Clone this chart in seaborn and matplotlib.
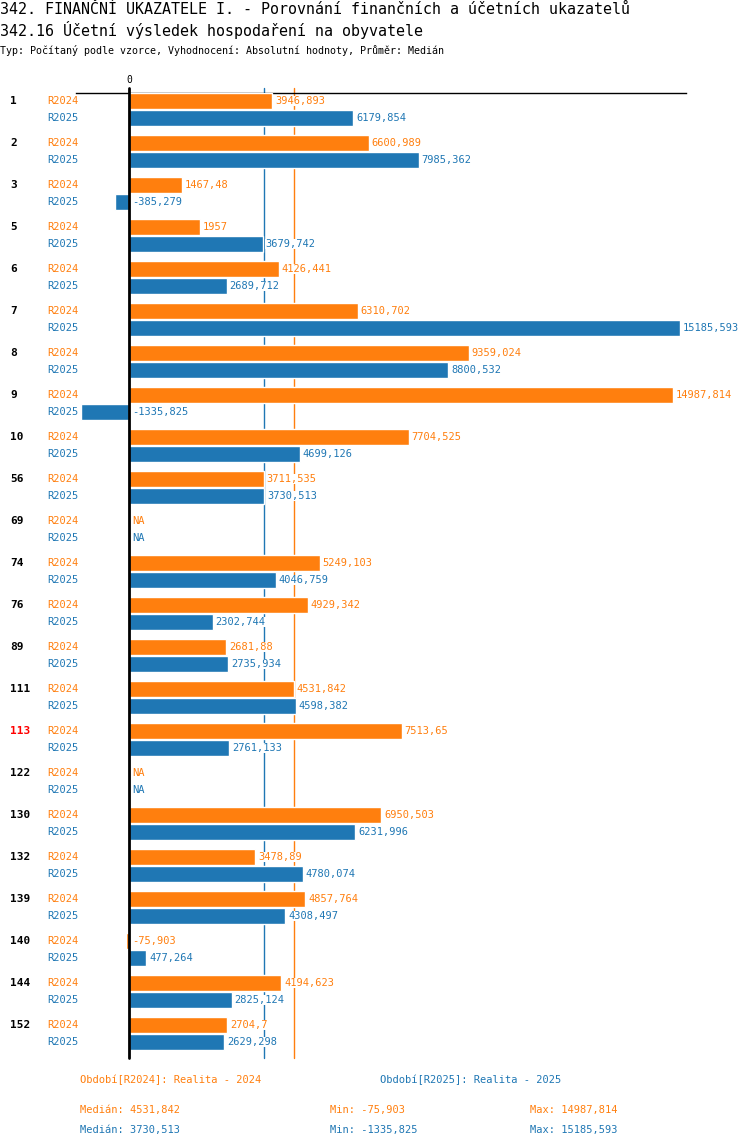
import numpy as np
import pandas as pd
import seaborn as sns
import matplotlib.pyplot as plt
from matplotlib.transforms import blended_transform_factory

# data
obce = ["1", "2", "3", "5", "6", "7", "8", "9", "10", "56", "69", "74", "76", "89",
        "111", "113", "122", "130", "132", "139", "140", "144", "152"]
r2024 = [3946.893, 6600.989, 1467.48, 1957, 4126.441, 6310.702, 9359.024, 14987.814,
         7704.525, 3711.535, np.nan, 5249.103, 4929.342, 2681.88, 4531.842, 7513.65,
         np.nan, 6950.503, 3478.89, 4857.764, -75.903, 4194.623, 2704.7]
r2025 = [6179.854, 7985.362, -385.279, 3679.742, 2689.712, 15185.593, 8800.532, -1335.825,
         4699.126, 3730.513, np.nan, 4046.759, 2302.744, 2735.934, 4598.382, 2761.133,
         np.nan, 6231.996, 4780.074, 4308.497, 477.264, 2825.124, 2629.298]
obdobi = ["R2024", "R2025"]
popisky = ["Období[R2024]: Realita - 2024", "Období[R2025]: Realita - 2025"]
zvyraznena = "113"

ORANGE = "#ff7f0e"
BLUE = "#1f77b4"
barvy = [ORANGE, BLUE]

df = pd.DataFrame({
    "obec": obce * 2,
    "obdobi": ["R2024"] * len(obce) + ["R2025"] * len(obce),
    "hodnota": r2024 + r2025,
})


def fmt(v):
    if np.isnan(v):
        return "NA"
    s = ("%.3f" % v).rstrip("0").rstrip(".")
    return s.replace(".", ",")


sns.set_style("white")
plt.rcParams["font.family"] = ["DejaVu Sans Mono"]
plt.rcParams["text.color"] = "black"

W, H = 750, 1148
fig = plt.figure(figsize=(W / 100, H / 100), dpi=100)
ax = fig.add_axes([76 / W, (H - 1058) / H, 610 / W, 965 / H])

sns.barplot(data=df, y="obec", x="hodnota", hue="obdobi", order=obce, hue_order=obdobi,
            palette=barvy, width=0.81, gap=0.05, orient="h", errorbar=None,
            legend=False, saturation=1, ax=ax, zorder=3)

ax.set_xlim(-1460, 15344)
ax.set_ylim(22.583, -0.393)

for s in ["left", "right", "bottom"]:
    ax.spines[s].set_visible(False)
ax.spines["top"].set_linewidth(1)
ax.spines["top"].set_color("black")
ax.set_ylabel("")
ax.set_xlabel("")
ax.set_yticks([])
ax.xaxis.tick_top()
ax.set_xticks([0])
ax.set_xticklabels(["0"], fontsize=7, color="black")
ax.tick_params(axis="x", length=0, pad=6)

# zero line + medians
ax.axvline(0, ymin=0, ymax=1 + 5 / 965, color="black", lw=2, zorder=5, clip_on=False)
medians = [np.nanmedian(r2024), np.nanmedian(r2025)]
for m, c in zip(medians, barvy):
    ax.axvline(m, ymin=0, ymax=1 + 5 / 965, color=c, lw=1, zorder=1, clip_on=False)

# offsets of the hue rows from the category centre (category 0 has both bars)
offs = []
for k in range(2):
    b = ax.containers[k][0]
    offs.append(b.get_y() + b.get_height() / 2 - 0)

# labels
ytr = blended_transform_factory(fig.transFigure, ax.transData)
for k, (vals, c, per) in enumerate(zip([r2024, r2025], barvy, obdobi)):
    for i, v in enumerate(vals):
        yc = i + offs[k]
        xpos = v if (not np.isnan(v) and v > 0) else 0
        ax.annotate(fmt(v), (xpos, yc), xytext=(2, 0), textcoords="offset points",
                    va="center", ha="left", fontsize=7.5, color=c, zorder=4,
                    bbox=dict(facecolor="white", edgecolor="none", pad=0.3))
        ax.text(47 / W, yc, per, transform=ytr, va="center", ha="left", fontsize=7.5, color=c)
for i, o in enumerate(obce):
    ax.text(10 / W, i + offs[0], o, transform=ytr, va="center", ha="left", fontsize=8,
            fontweight="bold", color="red" if o == zvyraznena else "black")

# titles
fig.text(0, 1 - 9 / H, "342. FINANČNÍ UKAZATELE I. - Porovnání finančních a účetních ukazatelů",
         fontsize=10.8, va="center", ha="left")
fig.text(0, 1 - 30 / H, "342.16 Účetní výsledek hospodaření na obyvatele",
         fontsize=10.8, va="center", ha="left")
fig.text(0, 1 - 50 / H, "Typ: Počítaný podle vzorce, Vyhodnocení: Absolutní hodnoty, Průměr: Medián",
         fontsize=7.2, va="center", ha="left")

# legend / stats
fig.text(80 / W, 1 - 1080 / H, popisky[0], color=ORANGE, fontsize=7.5, va="center")
fig.text(380 / W, 1 - 1080 / H, popisky[1], color=BLUE, fontsize=7.5, va="center")
for row, (vals, c) in enumerate(zip([r2024, r2025], barvy)):
    y = 1 - (1110 + 20 * row) / H
    fig.text(80 / W, y, "Medián: " + fmt(np.nanmedian(vals)), color=c, fontsize=7.5, va="center")
    fig.text(330 / W, y, "Min: " + fmt(np.nanmin(vals)), color=c, fontsize=7.5, va="center")
    fig.text(530 / W, y, "Max: " + fmt(np.nanmax(vals)), color=c, fontsize=7.5, va="center")

fig.savefig("out.png", dpi=100)
